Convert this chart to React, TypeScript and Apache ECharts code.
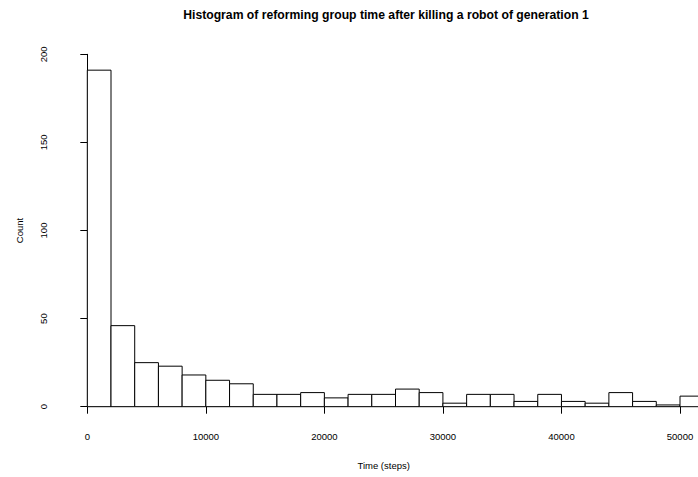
import React, { useEffect, useRef } from "react";
import * as echarts from "echarts";

const titleText = "Histogram of reforming group time after killing a robot of generation 1";
const xAxisName = "Time (steps)";
const yAxisName = "Count";

const binEdges = [
  0, 2000, 4000, 6000, 8000, 10000, 12000, 14000, 16000, 18000, 20000, 22000, 24000,
  26000, 28000, 30000, 32000, 34000, 36000, 38000, 40000, 42000, 44000, 46000, 48000,
  50000, 52000,
];
const counts = [191, 46, 25, 23, 18, 15, 13, 7, 7, 8, 5, 7, 7, 10, 8, 2, 7, 7, 3, 7, 3, 2, 8, 3, 1, 6];

const xTicks = [0, 10000, 20000, 30000, 40000, 50000];
const yTicks = [0, 50, 100, 150, 200];

const FONT = "Liberation Sans, Arial, Helvetica, sans-serif";

export default function App() {
  const ref = useRef<HTMLDivElement>(null);
  useEffect(() => {
    if (!ref.current) return;
    const chart = echarts.init(ref.current, null, { renderer: "svg" });
    const data = counts.map((c, i) => [binEdges[i], binEdges[i + 1], c]);
    chart.setOption({
      animation: false,
      backgroundColor: "#ffffff",
      title: {
        text: titleText,
        left: 381,
        top: 4,
        textAlign: "center",
        textStyle: { fontFamily: FONT, fontSize: 12.2, fontWeight: "bold", color: "#000" },
      },
      grid: { left: 87.3, top: 54.3, width: 592.7, height: 352.4 },
      xAxis: {
        type: "value",
        min: xTicks[0],
        max: xTicks[xTicks.length - 1],
        interval: 10000,
        offset: 15,
        splitLine: { show: false },
        axisLine: { show: true, lineStyle: { color: "#000", width: 1 } },
        axisTick: { show: true, length: 7, inside: false, lineStyle: { color: "#000" } },
        axisLabel: {
          color: "#000",
          fontFamily: FONT,
          fontSize: 9.5,
          margin: 10,
          formatter: (v: number) => String(v),
        },
        name: xAxisName,
        nameLocation: "middle",
        nameGap: 39,
        nameTextStyle: { color: "#000", fontFamily: FONT, fontSize: 9.5 },
      },
      yAxis: {
        type: "value",
        min: yTicks[0],
        max: yTicks[yTicks.length - 1],
        interval: 50,
        offset: 23.6,
        splitLine: { show: false },
        axisLine: { show: true, lineStyle: { color: "#000", width: 1 } },
        axisTick: { show: true, length: 7, inside: false, lineStyle: { color: "#000" } },
        axisLabel: {
          color: "#000",
          fontFamily: FONT,
          fontSize: 9.5,
          rotate: 90,
          margin: 15,
          formatter: (v: number) => String(v),
        },
        name: yAxisName,
        nameLocation: "middle",
        nameGap: 39,
        nameRotate: 90,
        nameTextStyle: { color: "#000", fontFamily: FONT, fontSize: 9.5 },
      },
      series: [
        {
          type: "custom",
          clip: false,
          data,
          encode: { x: [0, 1], y: 2 },
          renderItem: (params: any, api: any) => {
            const x0 = api.value(0);
            const x1 = api.value(1);
            const c = api.value(2);
            const p0 = api.coord([x0, 0]);
            const p1 = api.coord([x1, c]);
            return {
              type: "rect",
              shape: { x: p0[0], y: p1[1], width: p1[0] - p0[0], height: p0[1] - p1[1] },
              style: { fill: "#ffffff", stroke: "#000000", lineWidth: 1 },
            };
          },
        },
      ],
    });
    return () => chart.dispose();
  }, []);
  return (
    <div
      ref={ref}
      style={{ position: "absolute", left: 0, top: 0, width: 698, height: 477, background: "#fff" }}
    />
  );
}
